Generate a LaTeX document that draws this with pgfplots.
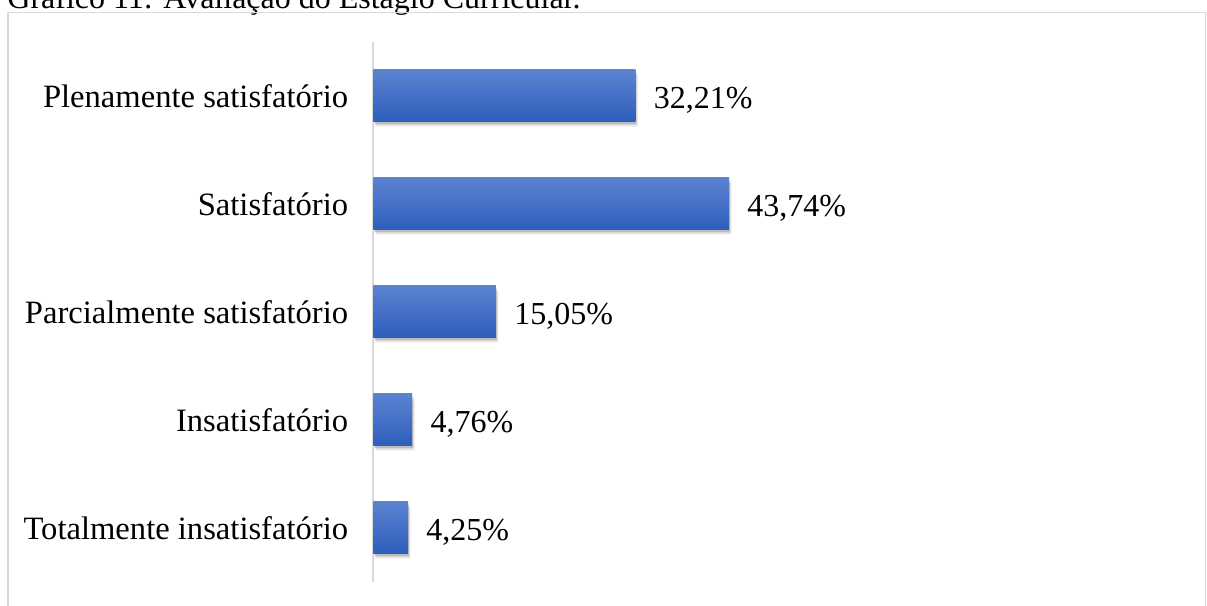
\documentclass[border=0pt]{standalone}
\usepackage{pgfplots}
\pgfplotsset{compat=1.18}
\usepackage{fontspec}
\setmainfont{Liberation Serif}
\definecolor{bartop}{RGB}{92,131,208}
\definecolor{barbot}{RGB}{46,94,189}
\definecolor{framegray}{RGB}{217,217,217}
\pgfplotsset{
  mainbar/.style={xbar, bar shift=0pt, bar width=0.48, draw=none, top color=bartop, bottom color=barbot,
    point meta=x,
    nodes near coords={\pgfmathprintnumber[fixed, fixed zerofill, precision=2, use comma, assume math mode=true]{\pgfplotspointmeta}\%},
    nodes near coords style={anchor=west, inner sep=0pt, xshift=9pt, yshift=-2.5pt, font=\fontsize{16}{19}\selectfont, text=black}},
}
\begin{document}
\begin{tikzpicture}
\node[anchor=base west, inner sep=0pt, font=\fontsize{16}{19}\selectfont] at (3.5pt,-4.25pt) {Gráfico 11: Avaliação do Estágio Curricular.};
\draw[framegray, line width=0.8pt] (4pt,-320pt) -- (4pt,-6.25pt) -- (602.75pt,-6.25pt) -- (602.75pt,-320pt);
\begin{axis}[
  at={(186.75pt,-20.75pt)}, anchor=north west,
  scale only axis, width=203.25pt, height=270pt,
  xmin=0, xmax=50, ymin=-0.5, ymax=4.5, y dir=reverse,
  axis x line=none, axis y line*=left,
  y axis line style={draw=framegray, line width=1pt},
  ytick={0,1,2,3,4},
  yticklabels={Plenamente satisfatório, Satisfatório, Parcialmente satisfatório, Insatisfatório, Totalmente insatisfatório},
  major tick length=0pt,
  yticklabel style={font=\fontsize{16.3}{19}\selectfont, inner sep=0pt, xshift=-12.5pt, yshift=-0.5pt},
  clip=false,
]
\addplot[xbar, bar shift=0pt, bar width=0.48, draw=none, fill=black, fill opacity=0.18, xshift=0.5pt, yshift=-1.5pt] coordinates {(32.21,0) (43.74,1) (15.05,2) (4.76,3) (4.25,4)};
\addplot[xbar, bar shift=0pt, bar width=0.48, draw=none, fill=black, fill opacity=0.10, xshift=1.2pt, yshift=-2.5pt] coordinates {(32.21,0) (43.74,1) (15.05,2) (4.76,3) (4.25,4)};
\addplot[mainbar] coordinates {(32.21,0)};
\addplot[mainbar] coordinates {(43.74,1)};
\addplot[mainbar] coordinates {(15.05,2)};
\addplot[mainbar] coordinates {(4.76,3)};
\addplot[mainbar] coordinates {(4.25,4)};
\end{axis}
\pgfresetboundingbox
\path[use as bounding box] (0pt,0pt) rectangle (603.5pt,-303pt);
\end{tikzpicture}
\end{document}
